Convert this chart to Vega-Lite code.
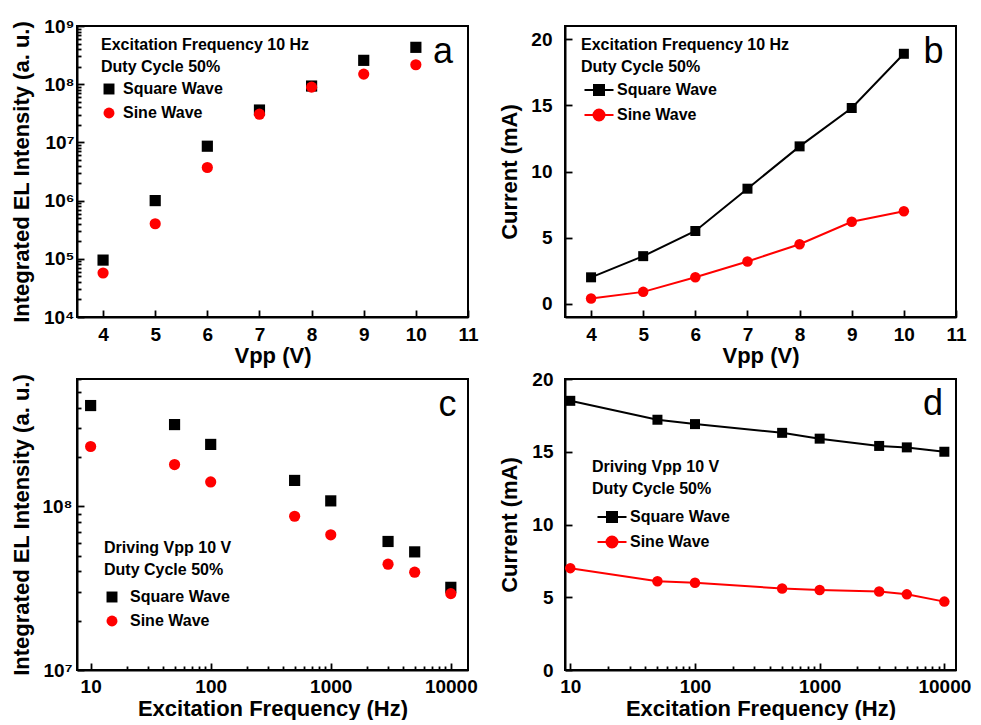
{
  "$schema": "https://vega.github.io/schema/vega-lite/v6.json",
  "background": "white",
  "padding": {"left": 8, "top": 16, "right": 0, "bottom": 0},
  "datasets": {
    "a": [
      {"vpp": 4, "wave": "Square Wave", "intensity": 95000},
      {"vpp": 5, "wave": "Square Wave", "intensity": 1000000},
      {"vpp": 6, "wave": "Square Wave", "intensity": 8600000},
      {"vpp": 7, "wave": "Square Wave", "intensity": 36000000},
      {"vpp": 8, "wave": "Square Wave", "intensity": 93000000},
      {"vpp": 9, "wave": "Square Wave", "intensity": 257000000},
      {"vpp": 10, "wave": "Square Wave", "intensity": 430000000},
      {"vpp": 4, "wave": "Sine Wave", "intensity": 57000},
      {"vpp": 5, "wave": "Sine Wave", "intensity": 400000},
      {"vpp": 6, "wave": "Sine Wave", "intensity": 3700000},
      {"vpp": 7, "wave": "Sine Wave", "intensity": 30500000},
      {"vpp": 8, "wave": "Sine Wave", "intensity": 89000000},
      {"vpp": 9, "wave": "Sine Wave", "intensity": 149000000},
      {"vpp": 10, "wave": "Sine Wave", "intensity": 216000000}
    ],
    "b": [
      {"vpp": 4, "wave": "Square Wave", "current": 2.0},
      {"vpp": 5, "wave": "Square Wave", "current": 3.6},
      {"vpp": 6, "wave": "Square Wave", "current": 5.5},
      {"vpp": 7, "wave": "Square Wave", "current": 8.7},
      {"vpp": 8, "wave": "Square Wave", "current": 11.9},
      {"vpp": 9, "wave": "Square Wave", "current": 14.8},
      {"vpp": 10, "wave": "Square Wave", "current": 18.9},
      {"vpp": 4, "wave": "Sine Wave", "current": 0.4},
      {"vpp": 5, "wave": "Sine Wave", "current": 0.9},
      {"vpp": 6, "wave": "Sine Wave", "current": 2.0},
      {"vpp": 7, "wave": "Sine Wave", "current": 3.2},
      {"vpp": 8, "wave": "Sine Wave", "current": 4.5},
      {"vpp": 9, "wave": "Sine Wave", "current": 6.2},
      {"vpp": 10, "wave": "Sine Wave", "current": 7.0}
    ],
    "c": [
      {"freq": 10, "wave": "Square Wave", "intensity": 413000000},
      {"freq": 50, "wave": "Square Wave", "intensity": 316000000},
      {"freq": 100, "wave": "Square Wave", "intensity": 239000000},
      {"freq": 500, "wave": "Square Wave", "intensity": 144000000},
      {"freq": 1000, "wave": "Square Wave", "intensity": 108000000},
      {"freq": 3000, "wave": "Square Wave", "intensity": 61000000},
      {"freq": 5000, "wave": "Square Wave", "intensity": 52700000},
      {"freq": 10000, "wave": "Square Wave", "intensity": 32000000},
      {"freq": 10, "wave": "Sine Wave", "intensity": 232000000},
      {"freq": 50, "wave": "Sine Wave", "intensity": 180000000},
      {"freq": 100, "wave": "Sine Wave", "intensity": 141000000},
      {"freq": 500, "wave": "Sine Wave", "intensity": 87000000},
      {"freq": 1000, "wave": "Sine Wave", "intensity": 67000000},
      {"freq": 3000, "wave": "Sine Wave", "intensity": 44300000},
      {"freq": 5000, "wave": "Sine Wave", "intensity": 39600000},
      {"freq": 10000, "wave": "Sine Wave", "intensity": 29300000}
    ],
    "d": [
      {"freq": 10, "wave": "Square Wave", "current": 18.5},
      {"freq": 50, "wave": "Square Wave", "current": 17.2},
      {"freq": 100, "wave": "Square Wave", "current": 16.9},
      {"freq": 500, "wave": "Square Wave", "current": 16.3},
      {"freq": 1000, "wave": "Square Wave", "current": 15.9},
      {"freq": 3000, "wave": "Square Wave", "current": 15.4},
      {"freq": 5000, "wave": "Square Wave", "current": 15.3},
      {"freq": 10000, "wave": "Square Wave", "current": 15.0},
      {"freq": 10, "wave": "Sine Wave", "current": 7.0},
      {"freq": 50, "wave": "Sine Wave", "current": 6.1},
      {"freq": 100, "wave": "Sine Wave", "current": 6.0},
      {"freq": 500, "wave": "Sine Wave", "current": 5.6},
      {"freq": 1000, "wave": "Sine Wave", "current": 5.5},
      {"freq": 3000, "wave": "Sine Wave", "current": 5.4},
      {"freq": 5000, "wave": "Sine Wave", "current": 5.2},
      {"freq": 10000, "wave": "Sine Wave", "current": 4.7}
    ]
  },
  "config": {
    "font": "Liberation Sans",
    "view": {"stroke": "black", "strokeWidth": 2},
    "axis": {
      "grid": false, "domainColor": "black", "domainWidth": 2,
      "tickColor": "black", "tickWidth": 1.8,
      "labelFont": "Liberation Sans", "labelFontWeight": "bold", "labelFontSize": 19, "labelColor": "black",
      "titleFont": "Liberation Sans", "titleFontWeight": "bold", "titleFontSize": 22, "titleColor": "black",
      "labelOverlap": false, "labelFlush": false, "labelBound": false
    },
    "axisX": {"minExtent": 24, "maxExtent": 24, "titlePadding": 4},
    "axisY": {"minExtent": 38, "maxExtent": 38, "titlePadding": 6},
    "legend": {
      "orient": "none", "padding": 0,
      "titleFont": "Liberation Sans", "titleFontWeight": "bold", "titleFontSize": 16, "titleColor": "black",
      "titleLineHeight": 22, "titleLimit": 0, "titlePadding": 6,
      "labelFont": "Liberation Sans", "labelFontWeight": "bold", "labelFontSize": 16, "labelColor": "black",
      "labelLimit": 0, "rowPadding": 6, "symbolSize": 120, "symbolOpacity": 1
    }
  },
  "columns": 2,
  "spacing": {"row": 62, "column": 97},
  "bounds": "flush",
  "resolve": {
    "scale": {"x": "independent", "y": "independent", "color": "independent", "shape": "independent", "stroke": "independent"},
    "axis": {"x": "independent", "y": "independent"},
    "legend": {"color": "independent", "shape": "independent", "stroke": "independent"}
  },
  "concat": [
    {
      "width": 391, "height": 291,
      "data": {"name": "a"},
      "layer": [
        {
          "mark": {"type": "point", "filled": true, "opacity": 1, "size": 125},
          "encoding": {
            "x": {"field": "vpp", "type": "quantitative",
              "scale": {"domain": [3.5, 11], "nice": false, "zero": false},
              "axis": {"title": "Vpp (V)", "values": [4, 4.5, 5, 5.5, 6, 6.5, 7, 7.5, 8, 8.5, 9, 9.5, 10, 10.5, 11],
                "format": "d", "labelExpr": "datum.value % 1 == 0 ? datum.label : ''",
                "tickSize": {"condition": {"test": "datum.value % 1 == 0", "value": -7}, "value": -4},
                "labelPadding": 15}},
            "y": {"field": "intensity", "type": "quantitative",
              "scale": {"type": "log", "domain": [10000, 1000000000], "nice": false},
              "axis": {"title": "Integrated EL Intensity (a. u.)",
                "values": [10000, 20000, 30000, 40000, 50000, 60000, 70000, 80000, 90000, 100000, 200000, 300000, 400000, 500000, 600000, 700000, 800000, 900000, 1000000, 2000000, 3000000, 4000000, 5000000, 6000000, 7000000, 8000000, 9000000, 10000000, 20000000, 30000000, 40000000, 50000000, 60000000, 70000000, 80000000, 90000000, 100000000, 200000000, 300000000, 400000000, 500000000, 600000000, 700000000, 800000000, 900000000, 1000000000],
                "labelExpr": "abs(log(datum.value)/LN10 - round(log(datum.value)/LN10)) < 0.000001 ? '10' + ['⁰','¹','²','³','⁴','⁵','⁶','⁷','⁸','⁹'][round(log(datum.value)/LN10)] : ''",
                "tickSize": {"condition": {"test": "abs(log(datum.value)/LN10 - round(log(datum.value)/LN10)) < 0.000001", "value": -7}, "value": -4},
                "labelPadding": 10}},
            "color": {"field": "wave", "type": "nominal",
              "scale": {"domain": ["Square Wave", "Sine Wave"], "range": ["#000000", "#ff0000"]},
              "legend": {"title": ["Excitation Frequency 10 Hz", "Duty Cycle 50%"], "legendX": 24, "legendY": 11, "labelOffset": 6}},
            "shape": {"field": "wave", "type": "nominal",
              "scale": {"domain": ["Square Wave", "Sine Wave"], "range": ["square", "circle"]},
              "legend": {"title": ["Excitation Frequency 10 Hz", "Duty Cycle 50%"], "legendX": 24, "legendY": 11, "labelOffset": 6}}
          }
        },
        {
          "data": {"values": [{"label": "a"}]},
          "mark": {"type": "text", "font": "Liberation Sans", "fontSize": 36, "fontWeight": "normal", "baseline": "alphabetic", "align": "center", "color": "black"},
          "encoding": {"x": {"datum": 10.52}, "y": {"datum": 230000000}, "text": {"field": "label"}}
        }
      ]
    },
    {
      "width": 391, "height": 291,
      "data": {"name": "b"},
      "layer": [
        {
          "mark": {"type": "line", "strokeWidth": 2},
          "encoding": {
            "x": {"field": "vpp", "type": "quantitative",
              "scale": {"domain": [3.5, 11], "nice": false, "zero": false},
              "axis": {"title": "Vpp (V)", "values": [4, 4.5, 5, 5.5, 6, 6.5, 7, 7.5, 8, 8.5, 9, 9.5, 10, 10.5, 11],
                "format": "d", "labelExpr": "datum.value % 1 == 0 ? datum.label : ''",
                "tickSize": {"condition": {"test": "datum.value % 1 == 0", "value": -7}, "value": -4},
                "labelPadding": 15}},
            "y": {"field": "current", "type": "quantitative",
              "scale": {"domain": [-1, 21], "nice": false, "zero": false},
              "axis": {"title": "Current (mA)", "values": [0, 2.5, 5, 7.5, 10, 12.5, 15, 17.5, 20],
                "labelExpr": "datum.value % 5 == 0 ? datum.label : ''",
                "tickSize": {"condition": {"test": "datum.value % 5 == 0", "value": -7}, "value": -4},
                "labelPadding": 20}},
            "color": {"field": "wave", "type": "nominal",
              "scale": {"domain": ["Square Wave", "Sine Wave"], "range": ["#000000", "#ff0000"]},
              "legend": {"title": ["Excitation Frequency 10 Hz", "Duty Cycle 50%"], "legendX": 16, "legendY": 11, "symbolSize": 100, "symbolOffset": 10, "labelOffset": 10, "titlePadding": 7, "symbolStrokeWidth": 2}}
          }
        },
        {
          "transform": [{"filter": "datum.wave == 'none'"}],
          "mark": {"type": "point", "filled": true, "opacity": 1, "size": 100, "strokeWidth": 2},
          "encoding": {
            "x": {"field": "vpp", "type": "quantitative"},
            "y": {"field": "current", "type": "quantitative"},
            "color": {"field": "wave", "type": "nominal",
              "scale": {"domain": ["Square Wave", "Sine Wave"], "range": ["#000000", "#ff0000"]},
              "legend": {"title": ["Excitation Frequency 10 Hz", "Duty Cycle 50%"], "legendX": 16, "legendY": 11, "symbolSize": 100, "symbolOffset": 10, "labelOffset": 10, "titlePadding": 7, "symbolStrokeWidth": 2}},
            "stroke": {"field": "wave", "type": "nominal",
              "scale": {"domain": ["Square Wave", "Sine Wave"], "range": ["#000000", "#ff0000"]},
              "legend": {"title": ["Excitation Frequency 10 Hz", "Duty Cycle 50%"], "legendX": 16, "legendY": 11, "symbolSize": 100, "symbolOffset": 10, "labelOffset": 10, "titlePadding": 7, "symbolStrokeWidth": 2}},
            "shape": {"field": "wave", "type": "nominal",
              "scale": {"domain": ["Square Wave", "Sine Wave"], "range": ["M-2.9,0H2.9M-1,-1H1V1H-1Z", "M-2.9,0H2.9M1.1,0A1.1,1.1 0 1 1 -1.1,0A1.1,1.1 0 1 1 1.1,0Z"]},
              "legend": {"title": ["Excitation Frequency 10 Hz", "Duty Cycle 50%"], "legendX": 16, "legendY": 11, "symbolSize": 100, "symbolOffset": 10, "labelOffset": 10, "titlePadding": 7, "symbolStrokeWidth": 2}}
          }
        },
        {
          "transform": [{"filter": "datum.wave == 'Square Wave'"}],
          "mark": {"type": "point", "filled": true, "opacity": 1, "size": 100, "shape": "square"},
          "encoding": {
            "x": {"field": "vpp", "type": "quantitative"},
            "y": {"field": "current", "type": "quantitative"},
            "color": {"field": "wave", "type": "nominal",
              "scale": {"domain": ["Square Wave", "Sine Wave"], "range": ["#000000", "#ff0000"]},
              "legend": {"title": ["Excitation Frequency 10 Hz", "Duty Cycle 50%"], "legendX": 16, "legendY": 11, "symbolSize": 100, "symbolOffset": 10, "labelOffset": 10, "titlePadding": 7, "symbolStrokeWidth": 2}}
          }
        },
        {
          "transform": [{"filter": "datum.wave == 'Sine Wave'"}],
          "mark": {"type": "point", "filled": true, "opacity": 1, "size": 110, "shape": "circle"},
          "encoding": {
            "x": {"field": "vpp", "type": "quantitative"},
            "y": {"field": "current", "type": "quantitative"},
            "color": {"field": "wave", "type": "nominal",
              "scale": {"domain": ["Square Wave", "Sine Wave"], "range": ["#000000", "#ff0000"]},
              "legend": {"title": ["Excitation Frequency 10 Hz", "Duty Cycle 50%"], "legendX": 16, "legendY": 11, "symbolSize": 100, "symbolOffset": 10, "labelOffset": 10, "titlePadding": 7, "symbolStrokeWidth": 2}}
          }
        },
        {
          "data": {"values": [{"label": "b"}]},
          "mark": {"type": "text", "font": "Liberation Sans", "fontSize": 36, "fontWeight": "normal", "baseline": "alphabetic", "align": "center", "color": "black"},
          "encoding": {"x": {"datum": 10.57}, "y": {"datum": 18.2}, "text": {"field": "label"}}
        }
      ]
    },
    {
      "width": 391, "height": 291,
      "data": {"name": "c"},
      "layer": [
        {
          "mark": {"type": "point", "filled": true, "opacity": 1, "size": 125},
          "encoding": {
            "x": {"field": "freq", "type": "quantitative",
              "scale": {"type": "log", "domain": [7.7, 13900], "nice": false},
              "axis": {"title": "Excitation Frequency (Hz)",
                "values": [10, 20, 30, 40, 50, 60, 70, 80, 90, 100, 200, 300, 400, 500, 600, 700, 800, 900, 1000, 2000, 3000, 4000, 5000, 6000, 7000, 8000, 9000, 10000],
                "format": "d",
                "labelExpr": "abs(log(datum.value)/LN10 - round(log(datum.value)/LN10)) < 0.000001 ? datum.label : ''",
                "tickSize": {"condition": {"test": "abs(log(datum.value)/LN10 - round(log(datum.value)/LN10)) < 0.000001", "value": -7}, "value": -4},
                "labelPadding": 14}},
            "y": {"field": "intensity", "type": "quantitative",
              "scale": {"type": "log", "domain": [10000000, 600000000], "nice": false},
              "axis": {"title": "Integrated EL Intensity (a. u.)",
                "values": [10000000, 20000000, 30000000, 40000000, 50000000, 60000000, 70000000, 80000000, 90000000, 100000000, 200000000, 300000000, 400000000, 500000000, 600000000],
                "labelExpr": "abs(log(datum.value)/LN10 - round(log(datum.value)/LN10)) < 0.000001 ? '10' + ['⁰','¹','²','³','⁴','⁵','⁶','⁷','⁸','⁹'][round(log(datum.value)/LN10)] : ''",
                "tickSize": {"condition": {"test": "abs(log(datum.value)/LN10 - round(log(datum.value)/LN10)) < 0.000001", "value": -7}, "value": -4},
                "labelPadding": 12}},
            "color": {"field": "wave", "type": "nominal",
              "scale": {"domain": ["Square Wave", "Sine Wave"], "range": ["#000000", "#ff0000"]},
              "legend": {"title": ["Driving Vpp 10 V", "Duty Cycle 50%"], "legendX": 27, "legendY": 161, "labelOffset": 10, "titlePadding": 11}},
            "shape": {"field": "wave", "type": "nominal",
              "scale": {"domain": ["Square Wave", "Sine Wave"], "range": ["square", "circle"]},
              "legend": {"title": ["Driving Vpp 10 V", "Duty Cycle 50%"], "legendX": 27, "legendY": 161, "labelOffset": 10, "titlePadding": 11}}
          }
        },
        {
          "data": {"values": [{"label": "c"}]},
          "mark": {"type": "text", "font": "Liberation Sans", "fontSize": 36, "fontWeight": "normal", "baseline": "alphabetic", "align": "center", "color": "black"},
          "encoding": {"x": {"datum": 9400}, "y": {"datum": 357000000}, "text": {"field": "label"}}
        }
      ]
    },
    {
      "width": 391, "height": 291,
      "data": {"name": "d"},
      "layer": [
        {
          "mark": {"type": "line", "strokeWidth": 2},
          "encoding": {
            "x": {"field": "freq", "type": "quantitative",
              "scale": {"type": "log", "domain": [9.07, 12400], "nice": false},
              "axis": {"title": "Excitation Frequency (Hz)",
                "values": [10, 20, 30, 40, 50, 60, 70, 80, 90, 100, 200, 300, 400, 500, 600, 700, 800, 900, 1000, 2000, 3000, 4000, 5000, 6000, 7000, 8000, 9000, 10000],
                "format": "d",
                "labelExpr": "abs(log(datum.value)/LN10 - round(log(datum.value)/LN10)) < 0.000001 ? datum.label : ''",
                "tickSize": {"condition": {"test": "abs(log(datum.value)/LN10 - round(log(datum.value)/LN10)) < 0.000001", "value": -7}, "value": -4},
                "labelPadding": 14}},
            "y": {"field": "current", "type": "quantitative",
              "scale": {"domain": [0, 20], "nice": false},
              "axis": {"title": "Current (mA)", "values": [0, 2.5, 5, 7.5, 10, 12.5, 15, 17.5, 20],
                "labelExpr": "datum.value % 5 == 0 ? datum.label : ''",
                "tickSize": {"condition": {"test": "datum.value % 5 == 0", "value": -7}, "value": -4},
                "labelPadding": 19}},
            "color": {"field": "wave", "type": "nominal",
              "scale": {"domain": ["Square Wave", "Sine Wave"], "range": ["#000000", "#ff0000"]},
              "legend": {"title": ["Driving Vpp 10 V", "Duty Cycle 50%"], "legendX": 27, "legendY": 80, "symbolSize": 100, "symbolOffset": 12, "labelOffset": 10, "titlePadding": 12, "symbolStrokeWidth": 2}}
          }
        },
        {
          "transform": [{"filter": "datum.wave == 'none'"}],
          "mark": {"type": "point", "filled": true, "opacity": 1, "size": 100, "strokeWidth": 2},
          "encoding": {
            "x": {"field": "freq", "type": "quantitative"},
            "y": {"field": "current", "type": "quantitative"},
            "color": {"field": "wave", "type": "nominal",
              "scale": {"domain": ["Square Wave", "Sine Wave"], "range": ["#000000", "#ff0000"]},
              "legend": {"title": ["Driving Vpp 10 V", "Duty Cycle 50%"], "legendX": 27, "legendY": 80, "symbolSize": 100, "symbolOffset": 12, "labelOffset": 10, "titlePadding": 12, "symbolStrokeWidth": 2}},
            "stroke": {"field": "wave", "type": "nominal",
              "scale": {"domain": ["Square Wave", "Sine Wave"], "range": ["#000000", "#ff0000"]},
              "legend": {"title": ["Driving Vpp 10 V", "Duty Cycle 50%"], "legendX": 27, "legendY": 80, "symbolSize": 100, "symbolOffset": 12, "labelOffset": 10, "titlePadding": 12, "symbolStrokeWidth": 2}},
            "shape": {"field": "wave", "type": "nominal",
              "scale": {"domain": ["Square Wave", "Sine Wave"], "range": ["M-2.9,0H2.9M-1,-1H1V1H-1Z", "M-2.9,0H2.9M1.1,0A1.1,1.1 0 1 1 -1.1,0A1.1,1.1 0 1 1 1.1,0Z"]},
              "legend": {"title": ["Driving Vpp 10 V", "Duty Cycle 50%"], "legendX": 27, "legendY": 80, "symbolSize": 100, "symbolOffset": 12, "labelOffset": 10, "titlePadding": 12, "symbolStrokeWidth": 2}}
          }
        },
        {
          "transform": [{"filter": "datum.wave == 'Square Wave'"}],
          "mark": {"type": "point", "filled": true, "opacity": 1, "size": 100, "shape": "square"},
          "encoding": {
            "x": {"field": "freq", "type": "quantitative"},
            "y": {"field": "current", "type": "quantitative"},
            "color": {"field": "wave", "type": "nominal",
              "scale": {"domain": ["Square Wave", "Sine Wave"], "range": ["#000000", "#ff0000"]},
              "legend": {"title": ["Driving Vpp 10 V", "Duty Cycle 50%"], "legendX": 27, "legendY": 80, "symbolSize": 100, "symbolOffset": 12, "labelOffset": 10, "titlePadding": 12, "symbolStrokeWidth": 2}}
          }
        },
        {
          "transform": [{"filter": "datum.wave == 'Sine Wave'"}],
          "mark": {"type": "point", "filled": true, "opacity": 1, "size": 110, "shape": "circle"},
          "encoding": {
            "x": {"field": "freq", "type": "quantitative"},
            "y": {"field": "current", "type": "quantitative"},
            "color": {"field": "wave", "type": "nominal",
              "scale": {"domain": ["Square Wave", "Sine Wave"], "range": ["#000000", "#ff0000"]},
              "legend": {"title": ["Driving Vpp 10 V", "Duty Cycle 50%"], "legendX": 27, "legendY": 80, "symbolSize": 100, "symbolOffset": 12, "labelOffset": 10, "titlePadding": 12, "symbolStrokeWidth": 2}}
          }
        },
        {
          "data": {"values": [{"label": "d"}]},
          "mark": {"type": "text", "font": "Liberation Sans", "fontSize": 36, "fontWeight": "normal", "baseline": "alphabetic", "align": "center", "color": "black"},
          "encoding": {"x": {"datum": 8100}, "y": {"datum": 17.5}, "text": {"field": "label"}}
        }
      ]
    }
  ]
}
